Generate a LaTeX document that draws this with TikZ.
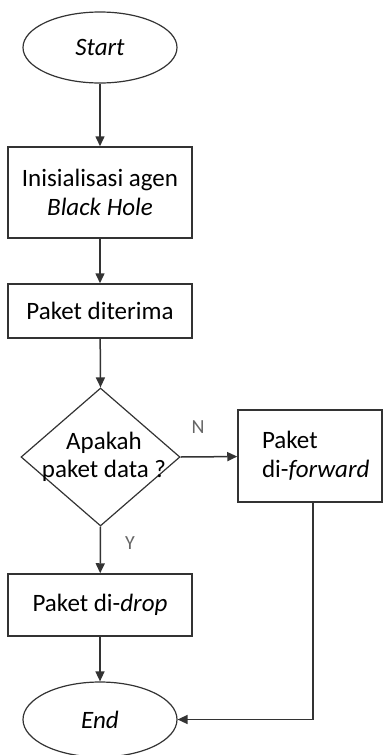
\documentclass[tikz,border=0pt]{standalone}
\usepackage{fontspec}
\setmainfont{Carlito}
\usetikzlibrary{shapes.geometric,arrows.meta}
\begin{document}
\begin{tikzpicture}[x=1pt,y=-1pt,
  every node/.style={font=\fontsize{25}{28.5}\selectfont},
  line/.style={draw=black!80, line width=1.5pt},
  arrow/.style={line, -{Triangle[length=10pt,width=9pt]}},
  terminal/.style={ellipse, draw=black!80, line width=1.2pt, inner sep=0pt,
    minimum width=154pt},
  process/.style={rectangle, draw=black!80, line width=1.5pt, inner sep=0pt,
    minimum width=184pt, align=center},
  decision/.style={diamond, draw=black!80, line width=1.2pt, inner sep=0pt,
    minimum width=159pt, minimum height=138pt},
  branch/.style={text=black!60, font=\fontsize{20}{22}\selectfont}]
\useasboundingbox (0,0) rectangle (384,755);

% nodes of the flow
\node[terminal, minimum height=71pt] (start) at (100,47.5) {\itshape Start};
\node[process, minimum height=91pt] (init) at (100,192.5)
  {Inisialisasi agen\\\itshape Black Hole};
\node[process, minimum height=54pt] (recv) at (100,311) {Paket diterima};
\node[decision] (dec) at (100.5,457) {};
\node[align=center, inner sep=0pt] (dectext) at (104,457) {Apakah\\paket data ?};
\node[rectangle, draw=black!80, line width=1.5pt, minimum width=144pt,
  minimum height=92pt, text width=120pt, inner xsep=12pt, inner ysep=0pt,
  align=left] (fwd) at (310,456)
  {\hspace*{12pt}Paket\\\hspace*{12pt}di-\textit{forward}};
\node[process, minimum height=62pt] (drop) at (100,605) {Paket di-\textit{drop}};
\node[terminal, minimum height=75pt] (end) at (100,719.5) {\itshape End};

% branch labels
\node[branch] (nlab) at (198,427) {N};
\node[branch] (ylab) at (130,543) {Y};

% connectors
\draw[arrow] (start) -- (init);
\draw[arrow] (init) -- (recv);
\draw[arrow] (recv) -- (dec.north);
\draw[arrow] (dec.east) -- (fwd);
\draw[arrow] (dec.south) -- (drop);
\draw[arrow] (drop) -- (end);
\draw[arrow] ([xshift=3pt]fwd.south) |- (end.east);
\end{tikzpicture}
\end{document}
